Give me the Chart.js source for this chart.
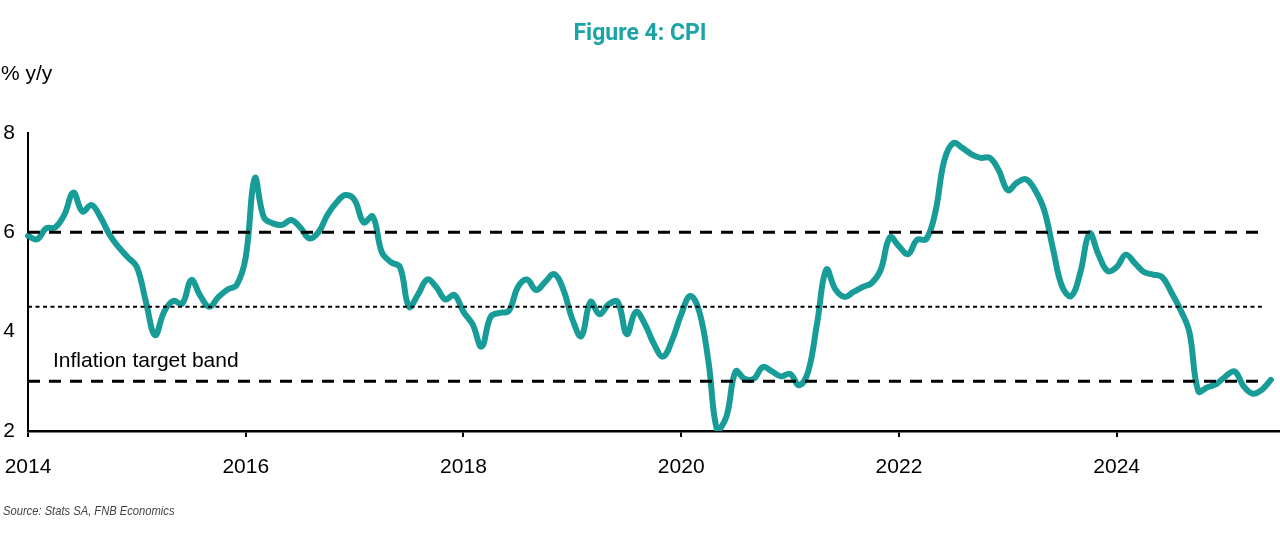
<!DOCTYPE html>
<html>
<head>
<meta charset="utf-8">
<title>Figure 4: CPI</title>
<script src="https://cdn.jsdelivr.net/npm/chart.js@4.4.1/dist/chart.umd.min.js"></script>
<style>
  html, body { margin: 0; padding: 0; background: #fff; }
  #wrap { position: relative; width: 1280px; height: 545px; font-family: "Liberation Sans", Arial, sans-serif; color: #000; }
  #cpiChart { position: absolute; left: 0; top: 0; }
  .title { position: absolute; left: 0; top: 19px; width: 1280px; text-align: center; font: bold 23px Roboto, sans-serif; color: #1ba3a6; }
  .unit { position: absolute; left: 1px; top: 61px; font-size: 21px; }
  .band { position: absolute; left: 53px; top: 348px; font-size: 21px; }
  .source { position: absolute; left: 3px; top: 503px; font: italic 13px "Liberation Sans", sans-serif; color: #444; transform: scaleX(0.86); transform-origin: left top; white-space: nowrap; }
</style>
</head>
<body>
<div id="wrap">
  <canvas id="cpiChart" width="1280" height="545"></canvas>
  <div class="title">Figure 4: CPI</div>
  <div class="unit">% y/y</div>
  <div class="band">Inflation target band</div>
  <div class="source">Source: Stats SA, FNB Economics</div>
</div>
<script>
// monthly CPI, % y/y, Jan 2014 - Jun 2025
const cpi2014 = [5.93, 5.86, 6.08, 6.1, 6.35, 6.8, 6.42, 6.55, 6.3, 5.95, 5.7, 5.5];
const cpi2015 = [5.3, 4.6, 3.93, 4.4, 4.62, 4.56, 5.04, 4.72, 4.5, 4.7, 4.85, 4.94];
const cpi2016 = [5.5, 7.09, 6.3, 6.18, 6.15, 6.25, 6.1, 5.88, 6.0, 6.35, 6.6, 6.75];
const cpi2017 = [6.65, 6.2, 6.32, 5.6, 5.4, 5.3, 4.5, 4.75, 5.05, 4.9, 4.65, 4.74];
const cpi2018 = [4.4, 4.15, 3.7, 4.3, 4.38, 4.42, 4.9, 5.05, 4.84, 5.0, 5.16, 4.85];
const cpi2019 = [4.25, 3.91, 4.6, 4.35, 4.55, 4.6, 3.95, 4.4, 4.15, 3.75, 3.5, 3.83];
const cpi2020 = [4.35, 4.72, 4.4, 3.4, 2.0, 2.3, 3.2, 3.05, 3.05, 3.29, 3.2, 3.1];
const cpi2021 = [3.15, 2.92, 3.2, 4.2, 5.25, 4.85, 4.7, 4.8, 4.9, 4.98, 5.25, 5.9];
const cpi2022 = [5.72, 5.56, 5.85, 5.86, 6.4, 7.45, 7.8, 7.7, 7.57, 7.5, 7.5, 7.25];
const cpi2023 = [6.85, 7.0, 7.07, 6.85, 6.45, 5.65, 4.9, 4.72, 5.2, 5.98, 5.55, 5.22];
const cpi2024 = [5.3, 5.55, 5.38, 5.2, 5.15, 5.1, 4.8, 4.45, 4.0, 2.8, 2.88, 2.95];
const cpi2025 = [3.1, 3.2, 2.9, 2.75, 2.83, 3.03];

const cpi = [].concat(cpi2014, cpi2015, cpi2016, cpi2017, cpi2018, cpi2019,
  cpi2020, cpi2021, cpi2022, cpi2023, cpi2024, cpi2025);

const monthNames = ['Jan', 'Feb', 'Mar', 'Apr', 'May', 'Jun', 'Jul', 'Aug', 'Sep', 'Oct', 'Nov', 'Dec'];
const years = [2014, 2015, 2016, 2017, 2018, 2019, 2020, 2021, 2022, 2023, 2024, 2025];
const yearTicks = ['2014', '2016', '2018', '2020', '2022', '2024'];

// target band: 3-6% with 4.5% midpoint
const bandUpper = 6;
const bandMid = 4.5;
const bandLower = 3;
const bandStart = 'Jan 2014';
const bandEnd = 'May 2025';

// category labels, one per month; axis runs one month past the last reading
const months = [];
years.forEach(y => monthNames.forEach(m => months.push(m + ' ' + y)));
months.length = cpi.length + 1;

const teal = '#189c98';
const font = { family: '"Liberation Sans", Arial, sans-serif', size: 21 };

function bandLine(value, dash, width) {
    return {
        data: [{ x: bandStart, y: value }, { x: bandEnd, y: value }],
        borderColor: '#000',
        borderWidth: width,
        borderDash: dash,
        pointRadius: 0,
        tension: 0,
        order: 0
    };
}

const data = {
    labels: months,
    datasets: [
        bandLine(bandUpper, [12, 9], 3),
        bandLine(bandMid, [4, 3.5], 2),
        bandLine(bandLower, [12, 9], 3),
        {
            label: 'CPI',
            data: cpi,
            borderColor: teal,
            borderWidth: 6,
            borderCapStyle: 'round',
            borderJoinStyle: 'round',
            pointRadius: 0,
            tension: 0.4,
            order: 1
        }
    ]
};

const config = {
    type: 'line',
    data: data,
    options: {
        responsive: false,
        animation: false,
        layout: { padding: { top: 133, right: 0, bottom: 0, left: 0 } },
        plugins: {
            legend: { display: false },
            tooltip: { enabled: false }
        },
        scales: {
            x: {
                type: 'category',
                offset: false,
                grid: { drawOnChartArea: false, drawTicks: true, tickLength: 6, color: '#000', lineWidth: 2 },
                border: { color: '#000', width: 2.5 },
                ticks: {
                    autoSkip: false,
                    maxRotation: 0,
                    padding: 18,
                    color: '#000',
                    font: font,
                    callback: function (value, index) {
                        const lab = months[index] || '';
                        const parts = lab.split(' ');
                        if (parts[0] === 'Jan' && yearTicks.includes(parts[1])) return parts[1];
                        return null;
                    }
                },
                afterFit: function (scale) {
                    scale.height = 114;
                    scale.paddingLeft = 0;
                    scale.paddingRight = 0;
                }
            },
            y: {
                min: 2,
                max: 8,
                grid: { drawOnChartArea: false, drawTicks: false },
                border: { color: '#000', width: 2 },
                ticks: { stepSize: 2, padding: 13, color: '#000', font: font },
                afterFit: function (scale) {
                    scale.width = 28;
                    scale.paddingTop = 0;
                    scale.paddingBottom = 0;
                }
            }
        }
    }
};

const ctx = document.getElementById('cpiChart').getContext('2d');
const cpiChart = new Chart(ctx, config);
</script>
</body>
</html>
